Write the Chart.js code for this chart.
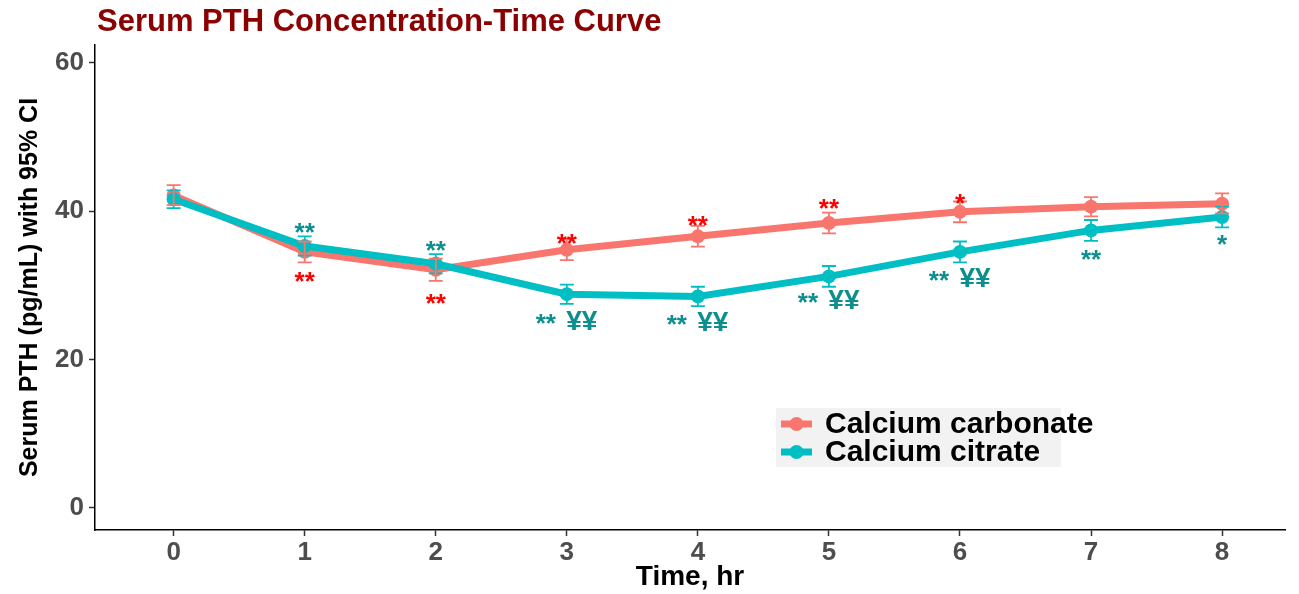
<!DOCTYPE html>
<html><head><meta charset="utf-8">
<script src="https://cdn.jsdelivr.net/npm/chart.js@4/dist/chart.umd.min.js"></script>
<style>body{margin:0;background:#fff}canvas{display:block}</style>
</head><body>
<canvas id="c" width="1299" height="594"></canvas>
<script>
// ---- data ----
const timePoints = [0, 1, 2, 3, 4, 5, 6, 7, 8];
const xTickLabels = ['0', '1', '2', '3', '4', '5', '6', '7', '8'];
const yTickValues = [0, 20, 40, 60];
const seriesNames = ['Calcium carbonate', 'Calcium citrate'];

const carbonateMean = [42.1, 34.5, 32.1, 34.8, 36.6, 38.4, 39.9, 40.6, 41.0];
const carbonateLow  = [40.8, 33.1, 30.6, 33.4, 35.2, 37.0, 38.5, 39.3, 39.7];
const carbonateHigh = [43.5, 35.9, 33.6, 36.2, 38.0, 39.8, 41.3, 41.9, 42.4];

const citrateMean = [41.6, 35.3, 32.9, 28.8, 28.5, 31.2, 34.5, 37.4, 39.2];
const citrateLow  = [40.4, 34.0, 31.6, 27.5, 27.2, 29.8, 33.1, 36.0, 37.8];
const citrateHigh = [42.8, 36.6, 34.2, 30.1, 29.8, 32.6, 35.9, 38.8, 40.6];

const carbonateSig = ['', '**', '**', '**', '**', '**', '*', '', ''];
const citrateSig   = ['', '**', '**', '**', '**', '**', '**', '**', '*'];
const citrateYen   = ['', '', '', '¥¥', '¥¥', '¥¥', '¥¥', '', ''];

// ---- styles ----
const COL_CARB = '#F8766D', COL_CIT = '#00BFC4';
const SIG_RED = '#FF0000', SIG_TEAL = '#0E8F8F';
// label offsets (px) from point centre
const carbSigDy = [0, 23, 27, -13, -17, -21, -15, 0, 0];
const citSigDy  = [0, -20, -20, 26, 25, 23, 25, 23, 21];
const FONT = "'Liberation Sans', Arial, Helvetica, sans-serif";

const pts = arr => timePoints.map((t, i) => ({ x: t, y: arr[i] }));

const errorBarPlugin = {
  id: 'errorBars',
  afterDatasetsDraw(chart) {
    const { ctx, scales: { x, y } } = chart;
    chart.data.datasets.forEach(ds => {
      ctx.save();
      ctx.strokeStyle = ds.borderColor;
      ctx.lineWidth = 1.8;
      ds.data.forEach((p, i) => {
        const px = x.getPixelForValue(p.x);
        const yl = y.getPixelForValue(ds.ciLow[i]);
        const yh = y.getPixelForValue(ds.ciHigh[i]);
        ctx.beginPath();
        ctx.moveTo(px, yl); ctx.lineTo(px, yh);
        ctx.moveTo(px - 7, yl); ctx.lineTo(px + 7, yl);
        ctx.moveTo(px - 7, yh); ctx.lineTo(px + 7, yh);
        ctx.stroke();
      });
      ctx.restore();
    });
  }
};

const labelPlugin = {
  id: 'labels',
  afterDraw(chart) {
    const { ctx, scales: { x, y } } = chart;
    ctx.save();
    ctx.textAlign = 'center';
    ctx.textBaseline = 'alphabetic';
    const star = (txt, cx, cy, col) => {
      ctx.font = `bold 26px ${FONT}`;
      ctx.fillStyle = col;
      ctx.fillText(txt, cx, cy + 15);
    };
    const yen = (txt, cx, cy, col) => {
      ctx.font = `bold 28px ${FONT}`;
      ctx.fillStyle = col;
      ctx.fillText(txt, cx, cy + 10);
    };
    timePoints.forEach((t, i) => {
      const px = x.getPixelForValue(t);
      if (carbonateSig[i]) {
        star(carbonateSig[i], px, y.getPixelForValue(carbonateMean[i]) + carbSigDy[i], SIG_RED);
      }
      if (citrateSig[i]) {
        const py = y.getPixelForValue(citrateMean[i]) + citSigDy[i];
        if (citrateYen[i]) {
          star(citrateSig[i], px - 21, py - 3, SIG_TEAL);
          yen(citrateYen[i], px + 15, py, SIG_TEAL);
        } else {
          star(citrateSig[i], px, py, SIG_TEAL);
        }
      }
    });
    // title
    ctx.textAlign = 'left';
    ctx.font = `bold 31px ${FONT}`;
    ctx.fillStyle = '#8B0000';
    ctx.fillText('Serum PTH Concentration-Time Curve', 97, 31);
    // legend
    const lx = 776, ly = 408, lw = 285, lh = 59;
    ctx.fillStyle = '#F2F2F2';
    ctx.fillRect(lx, ly, lw, lh);
    const cols = [COL_CARB, COL_CIT];
    seriesNames.forEach((name, k) => {
      const cy = 424 + k * 28;
      ctx.strokeStyle = cols[k];
      ctx.lineWidth = 7;
      ctx.beginPath(); ctx.moveTo(781, cy); ctx.lineTo(812, cy); ctx.stroke();
      ctx.fillStyle = cols[k];
      ctx.beginPath(); ctx.arc(796.5, cy, 7, 0, Math.PI * 2); ctx.fill();
      ctx.fillStyle = '#000';
      ctx.font = `bold 30px ${FONT}`;
      ctx.textBaseline = 'middle';
      ctx.fillText(name, 825, cy + 1);
      ctx.textBaseline = 'alphabetic';
    });
    ctx.restore();
  }
};

new Chart(document.getElementById('c'), {
  type: 'line',
  data: {
    datasets: [
      { label: seriesNames[1], data: pts(citrateMean), ciLow: citrateLow, ciHigh: citrateHigh,
        borderColor: COL_CIT, backgroundColor: COL_CIT, borderWidth: 7, pointRadius: 7,
        pointBorderWidth: 0, pointHoverRadius: 7, order: 0, tension: 0 },
      { label: seriesNames[0], data: pts(carbonateMean), ciLow: carbonateLow, ciHigh: carbonateHigh,
        borderColor: COL_CARB, backgroundColor: COL_CARB, borderWidth: 7, pointRadius: 7,
        pointBorderWidth: 0, pointHoverRadius: 7, order: 1, tension: 0 }
    ]
  },
  options: {
    responsive: false,
    animation: false,
    devicePixelRatio: 1,
    layout: { padding: { left: 0, right: 14, top: 45, bottom: 0 } },
    plugins: { legend: { display: false }, tooltip: { enabled: false } },
    scales: {
      x: {
        type: 'linear', min: -0.6, max: 8.48,
        afterBuildTicks: s => { s.ticks = timePoints.map(v => ({ value: v })); },
        afterFit: s => { s.height = 64; },
        ticks: { callback: (v) => xTickLabels[timePoints.indexOf(v)] ?? '', color: '#4D4D4D',
                 font: { family: FONT, size: 26, weight: 'bold' }, padding: 1, maxRotation: 0, autoSkip: false },
        grid: { drawOnChartArea: false, tickLength: 6, tickColor: '#333333', tickWidth: 1.5 },
        border: { display: true, color: '#000', width: 1.5 },
        title: { display: true, text: 'Time, hr', color: '#000', font: { family: FONT, size: 28, weight: 'bold' },
                 padding: { top: 0, bottom: 0 } }
      },
      y: {
        type: 'linear', min: -3, max: 62.4,
        afterBuildTicks: s => { s.ticks = yTickValues.map(v => ({ value: v })); },
        afterFit: s => { s.width = 95; },
        ticks: { color: '#4D4D4D', font: { family: FONT, size: 26, weight: 'bold' }, padding: 5 },
        grid: { drawOnChartArea: false, tickLength: 6, tickColor: '#333333', tickWidth: 1.5 },
        border: { display: true, color: '#000', width: 1.5 },
        title: { display: true, text: 'Serum PTH (pg/mL) with 95% CI', color: '#000',
                 font: { family: FONT, size: 25, weight: 'bold' }, padding: { top: 15, bottom: 0 } }
      }
    }
  },
  plugins: [errorBarPlugin, labelPlugin]
});
</script>
</body></html>
